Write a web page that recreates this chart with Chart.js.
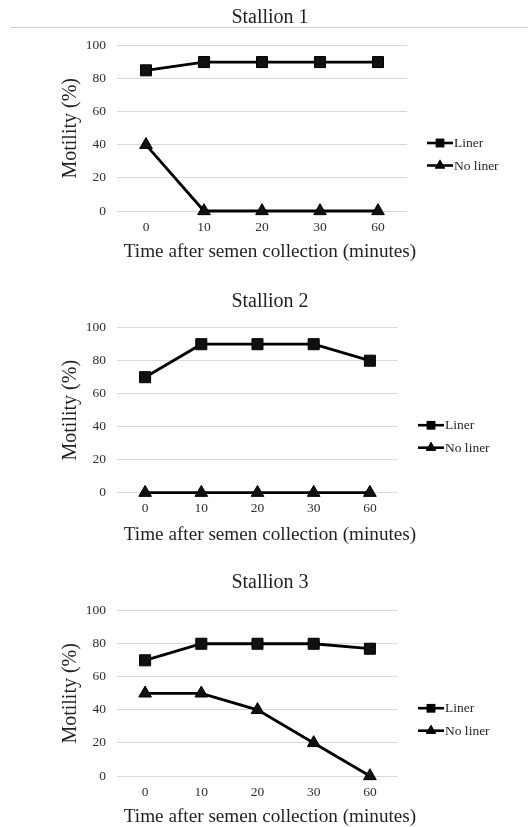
<!DOCTYPE html>
<html>
<head>
<meta charset="utf-8">
<script src="https://cdn.jsdelivr.net/npm/chart.js@4.4.1/dist/chart.umd.min.js"></script>
<style>
  html, body { margin: 0; padding: 0; background: #ffffff; }
  body { width: 528px; height: 827px; position: relative; overflow: hidden; }
  canvas { position: absolute; left: 0; }
  #sep { position: absolute; left: 11px; top: 27px; width: 517px; height: 0; border-top: 1.5px solid #cfcfcf; }
</style>
</head>
<body>
<div id="sep"></div>
<canvas id="c1" width="528" height="272" style="top:0px"></canvas>
<canvas id="c2" width="528" height="272" style="top:282px"></canvas>
<canvas id="c3" width="528" height="265" style="top:562px"></canvas>
<script>
// ---- data ----
const categories = ['0', '10', '20', '30', '60'];
const seriesNames = ['Liner', 'No liner'];
const panelTitles = ['Stallion 1', 'Stallion 2', 'Stallion 3'];
const s1Liner = [85, 90, 90, 90, 90];
const s1NoLiner = [40, 0, 0, 0, 0];
const s2Liner = [70, 90, 90, 90, 80];
const s2NoLiner = [0, 0, 0, 0, 0];
const s3Liner = [70, 80, 80, 80, 77];
const s3NoLiner = [50, 50, 40, 20, 0];
const yMin = 0, yMax = 100, yStep = 20;
const xAxisTitle = 'Time after semen collection (minutes)';
const yAxisTitle = 'Motility (%)';

const SERIF = "'Liberation Serif', 'Times New Roman', serif";

// custom plugin: panel title, x-axis title and line+marker legend
const panelTextPlugin = {
  id: 'panelText',
  afterDraw(chart, args, opts) {
    const ctx = chart.ctx;
    const ca = chart.chartArea;
    ctx.save();
    ctx.textAlign = 'center';
    ctx.textBaseline = 'middle';
    ctx.fillStyle = '#1f1f1f';
    ctx.font = '20px ' + SERIF;
    ctx.fillText(opts.title, opts.centerX, opts.titleY);
    ctx.font = '19.2px ' + SERIF;
    ctx.fillText(opts.xTitle, opts.centerX, opts.xTitleY);
    // legend
    const x0 = ca.right + opts.legendGap;
    chart.data.datasets.forEach((ds, i) => {
      const y = ca.top + opts.legendTop + i * opts.legendRow;
      ctx.strokeStyle = '#000';
      ctx.lineWidth = 2.6;
      ctx.beginPath();
      ctx.moveTo(x0, y);
      ctx.lineTo(x0 + opts.legendLine, y);
      ctx.stroke();
      ctx.fillStyle = '#000';
      ctx.beginPath();
      Chart.helpers.drawPoint(ctx, {pointStyle: ds.pointStyle, radius: 6, borderWidth: 0, rotation: 0}, x0 + opts.legendLine / 2, y);
      ctx.fill();
      ctx.fillStyle = '#1f1f1f';
      ctx.textAlign = 'left';
      ctx.font = '13.5px ' + SERIF;
      ctx.fillText(ds.label, x0 + opts.legendLine + 1, y + 0.5);
    });
    ctx.restore();
  }
};

function makeChart(id, title, liner, noLiner, layout) {
  const ctx = document.getElementById(id).getContext('2d');
  return new Chart(ctx, {
    type: 'line',
    data: {
      labels: categories,
      datasets: [
        {
          label: seriesNames[0], data: liner,
          borderColor: '#000', backgroundColor: '#000', borderWidth: 2.8,
          pointStyle: 'rect', pointRadius: 7.8, pointBorderWidth: 1,
          pointBackgroundColor: '#111', pointBorderColor: '#000',
          tension: 0, clip: false
        },
        {
          label: seriesNames[1], data: noLiner,
          borderColor: '#000', backgroundColor: '#000', borderWidth: 2.8,
          pointStyle: 'triangle', pointRadius: 7.3, pointBorderWidth: 1,
          pointBackgroundColor: '#111', pointBorderColor: '#000',
          tension: 0, clip: false
        }
      ]
    },
    options: {
      responsive: false,
      animation: false,
      devicePixelRatio: 1,
      layout: { padding: { top: layout.top, right: layout.right, bottom: layout.bottom, left: 0 } },
      plugins: {
        legend: { display: false },
        tooltip: { enabled: false },
        title: { display: false },
        panelText: {
          title: title, xTitle: xAxisTitle, centerX: 270,
          titleY: layout.titleY, xTitleY: layout.xTitleY,
          legendGap: 20, legendLine: 26, legendTop: 97.5, legendRow: 22.5
        }
      },
      scales: {
        x: {
          type: 'category', offset: true,
          grid: { display: false, drawTicks: false },
          border: { display: false },
          ticks: { color: '#2e2e2e', font: { family: SERIF, size: 13.5 }, padding: 8, maxRotation: 0 },
          afterFit(scale) { scale.height = 40; }
        },
        y: {
          min: yMin, max: yMax,
          grid: { color: '#d9d9d9', lineWidth: 1, drawTicks: false },
          border: { display: false },
          ticks: { stepSize: yStep, color: '#2e2e2e', font: { family: SERIF, size: 13.5 }, padding: 11 },
          title: { display: true, text: yAxisTitle, color: '#1f1f1f', font: { family: SERIF, size: 20 }, padding: { top: 58.5, bottom: 0 } },
          afterFit(scale) { scale.width = 117; }
        }
      }
    },
    plugins: [panelTextPlugin]
  });
}

makeChart('c1', panelTitles[0], s1Liner, s1NoLiner, { top: 45.5, right: 121, bottom: 21, titleY: 18, xTitleY: 252 });
makeChart('c2', panelTitles[1], s2Liner, s2NoLiner, { top: 45.7, right: 130, bottom: 21.3, titleY: 19.7, xTitleY: 253 });
makeChart('c3', panelTitles[2], s3Liner, s3NoLiner, { top: 48.7, right: 130, bottom: 11, titleY: 21, xTitleY: 254.7 });
</script>
</body>
</html>
